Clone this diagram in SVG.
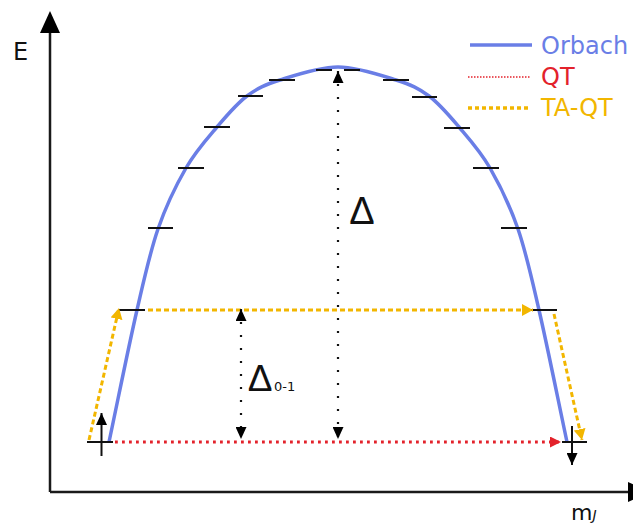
<svg xmlns="http://www.w3.org/2000/svg" width="633" height="524" viewBox="0 0 633 524">
<style>
.axis{stroke:#1a1a1a;stroke-width:2.5;fill:none}
.tick{stroke:#111;stroke-width:2;fill:none}
.curve{stroke:#6a7ee6;stroke-width:3.5;fill:none}
.ta{stroke:#f2b600;stroke-width:3;fill:none;stroke-dasharray:5 3}
.qt{stroke:#e3222b;stroke-width:3;fill:none;stroke-dasharray:2.8 4.2}
.gap{stroke:#111;stroke-width:2.2;fill:none;stroke-dasharray:2 11}
.lbl{font-family:"DejaVu Sans",Verdana,sans-serif}
</style>
<defs>
<marker id="ah-k" markerUnits="userSpaceOnUse" markerWidth="12" markerHeight="11" refX="12" refY="5.5" orient="auto-start-reverse"><path d="M0,0 L12,5.5 L0,11 z" fill="#000"/></marker>
<marker id="ah-y" markerUnits="userSpaceOnUse" markerWidth="11" markerHeight="12" refX="11" refY="6" orient="auto"><path d="M0,0 L11,6 L0,12 z" fill="#f2b600"/></marker>
<marker id="ah-r" markerUnits="userSpaceOnUse" markerWidth="11" markerHeight="11" refX="11" refY="5.5" orient="auto"><path d="M0,0 L11,5.5 L0,11 z" fill="#e3222b"/></marker>
</defs>

<g id="axes">
<path class="axis" d="M50,492 V30 M50,492 H630"/>
<polygon points="50,11 40,33 60,33" fill="#000"/>
<polygon points="628,482 650,492 628,502" fill="#000"/>
<text class="lbl" x="13" y="60" font-size="24" fill="#111">E</text>
<text class="lbl" x="571" y="520" font-size="22" fill="#111">m<tspan font-size="14" font-style="italic">J</tspan></text>
</g>

<g id="orbach-curve">
<path class="curve" d="M109,442 C118.3,398 128.8,345.5 137,310 C145.2,274.5 149.8,252.7 158,229 C166.2,205.3 176.2,185 186,168 C195.8,151 206.8,139 217,127 C227.2,115 236.5,103.8 247,96 C257.5,88.2 264.8,84.8 280,80 C295.2,75.2 318.7,67 338,67 C357.3,67 380.8,75.2 396,80 C411.2,84.8 418.5,88.2 429,96 C439.5,103.8 448.8,115 459,127 C469.2,139 480.2,151 490,168 C499.8,185 509.8,205.3 518,229 C526.2,252.7 530.8,274.5 539,310 C547.2,345.5 557.7,398 567,442"/>
</g>

<g id="levels">
<path class="tick" d="M316,70 H332 M344,70 H360 M269,80 H295 M383,80 H409 M238,96 H263 M412,97 H437 M204,127 H230 M444,128 H470 M178,168 H204 M473,168 H499 M148,228 H173 M501,228 H527 M118,310 H145 M530,310 H557 M87,442 H113 M562,442 H587"/>
</g>

<g id="spin-up">
<line x1="101.5" y1="456" x2="101.5" y2="413" stroke="#111" stroke-width="2" marker-end="url(#ah-k)"/>
</g>
<g id="spin-down">
<line x1="572" y1="426" x2="572" y2="465" stroke="#111" stroke-width="2" marker-end="url(#ah-k)"/>
</g>

<g id="connectors">
<line class="ta" x1="89" y1="440" x2="119" y2="308" marker-end="url(#ah-y)"/>
<line class="ta" x1="148" y1="310" x2="533" y2="310" stroke-dasharray="4.5 2.7" marker-end="url(#ah-y)"/>
<line class="ta" x1="554" y1="314" x2="582" y2="440" marker-end="url(#ah-y)"/>
<line class="qt" x1="115" y1="442" x2="561" y2="442" marker-end="url(#ah-r)"/>
<line class="gap" x1="338" y1="71" x2="338" y2="439" marker-start="url(#ah-k)" marker-end="url(#ah-k)"/>
<line class="gap" x1="241" y1="309" x2="241" y2="439" marker-start="url(#ah-k)" marker-end="url(#ah-k)"/>
</g>

<g id="delta-label">
<text x="362" y="224" font-family="Liberation Sans, Arial, sans-serif" font-size="38" text-anchor="middle" fill="#111">Δ</text>
</g>
<g id="delta01-label">
<text x="260" y="391" font-family="Liberation Sans, Arial, sans-serif" font-size="37" text-anchor="middle" fill="#111">Δ</text>
<text class="lbl" x="274" y="391" font-size="13" fill="#111">0-1</text>
</g>

<g id="legend">
<line x1="470" y1="45" x2="532" y2="45" stroke="#6a7ee6" stroke-width="3.5"/>
<text class="lbl" x="541" y="54" font-size="24" fill="#6a7ee6">Orbach</text>
<line x1="468" y1="77" x2="531" y2="77" stroke="#e3222b" stroke-width="1.5" stroke-dasharray="1.5 1.5"/>
<text class="lbl" x="541" y="85" font-size="24" fill="#e3222b">QT</text>
<line x1="468" y1="108" x2="531" y2="108" stroke="#f2b600" stroke-width="3.5" stroke-dasharray="4 3"/>
<text class="lbl" x="541" y="116" font-size="24" fill="#f2b600">TA-QT</text>
</g>
</svg>
